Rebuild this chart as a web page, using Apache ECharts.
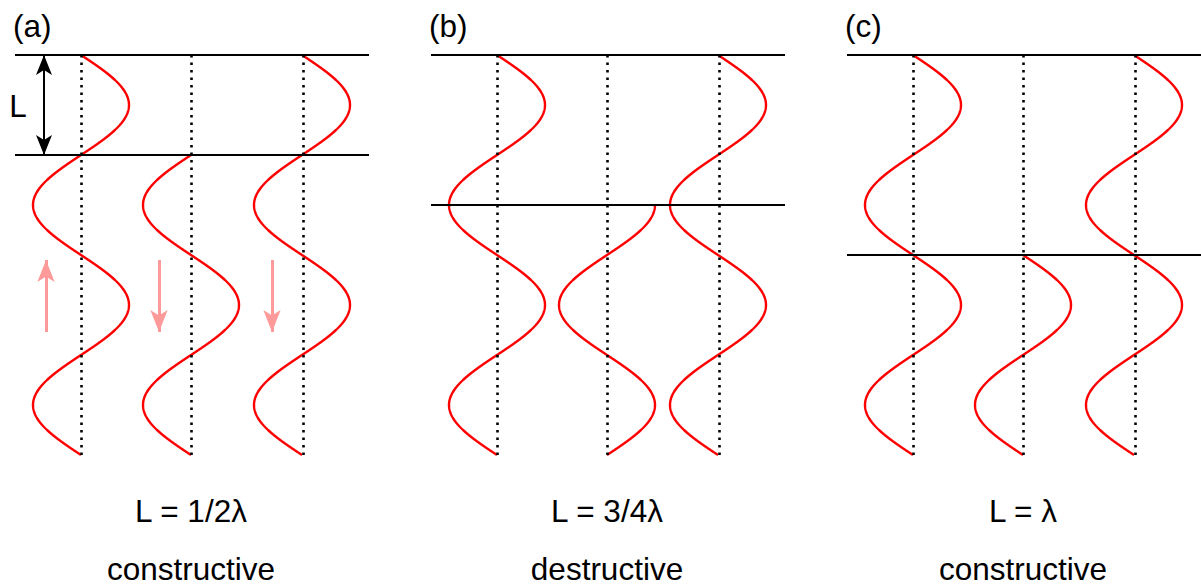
<!DOCTYPE html>
<html><head><meta charset="utf-8">
<script src="https://cdn.jsdelivr.net/npm/echarts@6/dist/echarts.min.js"></script>
<style>html,body{margin:0;padding:0;background:#fff}#c{width:1201px;height:585px}</style>
</head><body><div id="c"></div>
<script>
// ---- data ----
const panelLabels = ['(a)', '(b)', '(c)'];
const thicknessLabels = ['L = 1/2λ', 'L = 3/4λ', 'L = λ'];
const interferenceLabels = ['constructive', 'destructive', 'constructive'];
const filmThickness = [0.5, 0.75, 1.0];      // film thickness L, in wavelengths
const rayPositions = [0.33, 0.88, 1.435];    // the three rays (wavelength units)
const waveAmplitude = 0.24;                  // wavelength units
const drawnDepth = 2;                        // depth shown below the top surface (λ)
const arrowX = [0.155, 0.72, 1.285];         // propagation arrows of panel (a)
const arrowFrom = [1.385, 1.025, 1.025];
const arrowTo = [1.025, 1.385, 1.385];
const thicknessArrowX = 0.145;

// ---- layout ----
const gridLefts = [15, 431, 847];
const gridTop = 55, gridH = 400, pxPerUnit = 200, gridW = 354;
const FONT = '31.5px "Liberation Sans", Arial, sans-serif';

function wave(ray, y0, shift) {
  const pts = [];
  const n = Math.round((drawnDepth - y0) / 0.005);
  for (let k = 0; k <= n; k++) {
    const y = y0 + k * 0.005;
    pts.push([ray + waveAmplitude * Math.sin(2 * Math.PI * (y - shift)), y]);
  }
  return pts;
}

const grids = [], xAxes = [], yAxes = [], series = [], graphics = [];
filmThickness.forEach((L, i) => {
  grids.push({left: gridLefts[i], top: gridTop, width: gridW, height: gridH});
  xAxes.push({type: 'value', gridIndex: i, min: 0, max: gridW / pxPerUnit, show: false});
  yAxes.push({type: 'value', gridIndex: i, min: 0, max: drawnDepth, inverse: true, show: false});
  // surfaces + rays
  series.push({
    type: 'line', xAxisIndex: i, yAxisIndex: i, data: [], silent: true,
    markLine: {
      silent: true, symbol: ['none', 'none'], label: {show: false},
      data: [
        {yAxis: 0, lineStyle: {color: '#000', width: 2, type: 'solid'}},
        {yAxis: L, lineStyle: {color: '#000', width: 2, type: 'solid'}},
      ].concat(rayPositions.map(r => ({xAxis: r, lineStyle: {color: '#000', width: 2.6, type: [2.6, 4.9], cap: 'butt'}})))
    }
  });
  // waves: incident (ray 1), reflected from bottom surface (ray 2), reflected from top surface (ray 3)
  [[rayPositions[0], 0, 0], [rayPositions[1], L, 2 * L], [rayPositions[2], 0, 0]].forEach(w => {
    series.push({
      type: 'line', xAxisIndex: i, yAxisIndex: i, data: wave(w[0], w[1], w[2]),
      showSymbol: false, smooth: false, silent: true, z: 3,
      lineStyle: {color: '#ff0000', width: 2.4}
    });
  });
  const cx = gridLefts[i] + rayPositions[1] * pxPerUnit;
  graphics.push({type: 'text', x: gridLefts[i] - 2, y: 26, style: {text: panelLabels[i], font: FONT, fill: '#000', textAlign: 'left', textVerticalAlign: 'middle'}});
  graphics.push({type: 'text', x: cx, y: 510.5, style: {text: thicknessLabels[i], font: FONT, fill: '#000', textAlign: 'center', textVerticalAlign: 'middle'}});
  graphics.push({type: 'text', x: cx, y: 568.5, style: {text: interferenceLabels[i], font: FONT, fill: '#000', textAlign: 'center', textVerticalAlign: 'middle'}});
});

// arrows in panel (a)
series.push({
  type: 'line', xAxisIndex: 0, yAxisIndex: 0, data: [], silent: true,
  markLine: {
    silent: true, label: {show: false},
    data: [
      [{coord: [thicknessArrowX, 0], symbol: 'arrow', symbolSize: [12, 20]},
       {coord: [thicknessArrowX, filmThickness[0]], symbol: 'arrow', symbolSize: [12, 20],
        lineStyle: {color: '#000', width: 2, type: 'solid'}}]
    ].concat(arrowX.map((x, k) => [
      {coord: [x, arrowFrom[k]], symbol: 'none'},
      {coord: [x, arrowTo[k]], symbol: 'arrow', symbolSize: [13, 22],
       lineStyle: {color: '#ff9a9a', width: 3, type: 'solid'}}
    ]))
  }
});
graphics.push({type: 'text', x: 18, y: 106, style: {text: 'L', font: FONT, fill: '#000', textAlign: 'center', textVerticalAlign: 'middle'}});

const chart = echarts.init(document.getElementById('c'), null, {renderer: 'svg'});
chart.setOption({
  animation: false, backgroundColor: '#fff',
  grid: grids, xAxis: xAxes, yAxis: yAxes, series: series, graphic: graphics
});
</script></body></html>
